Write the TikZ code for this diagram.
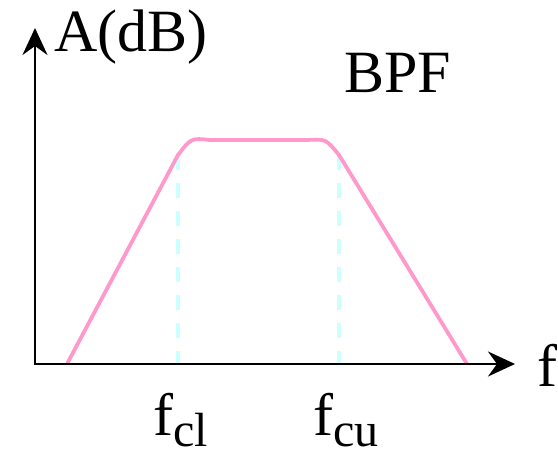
\documentclass[tikz,border=0pt]{standalone}
\usepackage{fontspec}
\setmainfont{Liberation Serif}
\usetikzlibrary{arrows.meta, positioning}
\definecolor{bandpink}{HTML}{FF99CC}
\definecolor{edgecyan}{HTML}{CCFFFF}
\newcommand{\subsize}{\fontsize{48}{58}\selectfont}

\begin{document}
\begin{tikzpicture}[
    x = 1pt,
    y = -1pt,
    axis/.style = {line width=2.5pt, line cap=rect, -{Stealth[length=27pt, width=25pt, inset=9pt]}},
    response/.style = {bandpink, line width=3.8pt, line join=round},
    cutoff/.style = {edgecyan, line width=4pt, dash pattern=on 15pt off 13pt},
    biglabel/.style = {font=\fontsize{60}{72}\selectfont, inner sep=0pt, anchor=base west}
]
\useasboundingbox (0,0) rectangle (558,454);

% 1. Key points of the axes and of the response
\coordinate (origin) at (35,364);
\coordinate (ytip) at (35,28);
\coordinate (xtip) at (515,364);
\coordinate (lowstart) at (67,364);
\coordinate (lowknee) at (178,155);
\coordinate (lowtop) at (210,140);
\coordinate (hightop) at (307,140);
\coordinate (highknee) at (339,155);
\coordinate (highend) at (467,364);

% 2. Cut-off markers, dashed down to the f axis
\draw[cutoff] (lowknee) -- (lowknee |- origin);
\draw[cutoff] (highknee) -- (highknee |- origin);

% 3. The pass band curve
\draw[response] (lowstart) -- (lowknee) .. controls (191,138) .. (lowtop)
    -- (hightop) .. controls (326,139) .. (highknee) -- (highend);

% 4. Axes
\draw[axis] (origin) -- (xtip);
\draw[axis] (origin) -- (ytip);

% 5. Labels
\node[biglabel] (ylabel) at (54,52) {A(dB)};
\node[biglabel] (xlabel) at (537,387) {f};
\node[biglabel] (title) at (344,93) {BPF};
\node[biglabel] (fcl) at (153,436) {f\raisebox{-11pt}{\subsize cl}};
\node[biglabel] (fcu) at (313,436) {f\raisebox{-11pt}{\subsize cu}};

\end{tikzpicture}
\end{document}
